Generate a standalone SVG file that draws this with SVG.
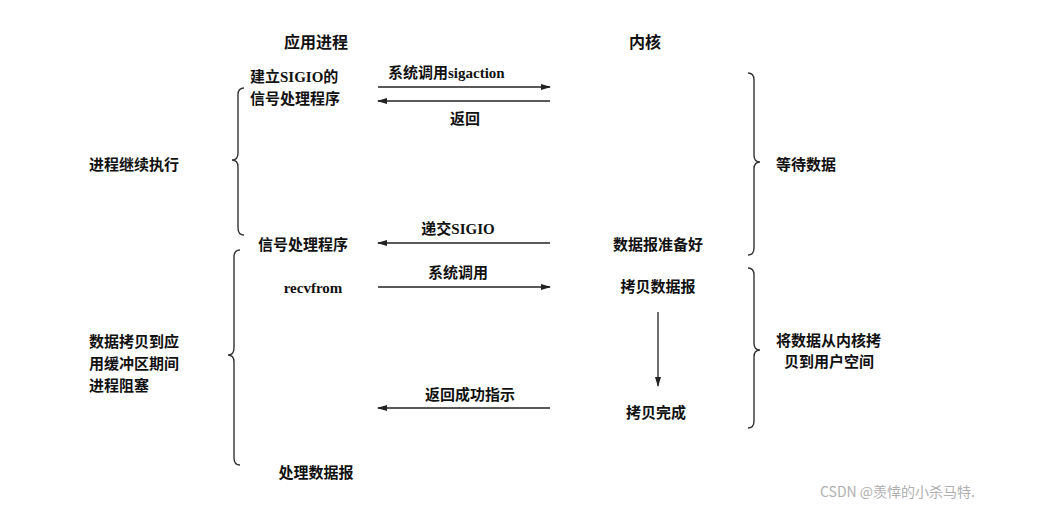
<svg xmlns="http://www.w3.org/2000/svg" width="1041" height="507" viewBox="0 0 1041 507">
<style>
text{font-family:"Liberation Serif","Noto Sans CJK SC",serif;font-size:15px;font-weight:bold;fill:#111}
.h{font-size:16px}
.wm{font-family:"Noto Sans CJK SC","Liberation Sans",sans-serif;font-size:14px;font-weight:normal;fill:#b0b0b0}
.ln{stroke:#222;stroke-width:1.3;fill:none}
.br{stroke:#333;stroke-width:1.4;fill:none}
</style>
<defs><marker id="a" markerWidth="10" markerHeight="8" refX="9" refY="4" orient="auto" markerUnits="userSpaceOnUse"><path d="M0,1 L10,4 L0,7 Z" fill="#222"/></marker></defs>
<rect width="1041" height="507" fill="#fff"/>
<g id="headers"><text class="h" x="316" y="48" text-anchor="middle">应用进程</text><text class="h" x="645" y="48" text-anchor="middle">内核</text></g>
<g id="braces">
<path class="br" d="M244,88 Q238,88 238,95 L238,153 Q238,160 232,160 Q238,160 238,167 L238,228 Q238,235 244,235"/>
<path class="br" d="M240,250 Q234,250 234,257 L234,348 Q234,355 228,355 Q234,355 234,362 L234,458 Q234,465 240,465"/>
<path class="br" d="M748,73 Q754,73 754,80 L754,155 Q754,162 760,162 Q754,162 754,169 L754,248 Q754,255 748,255"/>
<path class="br" d="M748,268 Q754,268 754,275 L754,343 Q754,350 760,350 Q754,350 754,357 L754,421 Q754,428 748,428"/>
</g>
<g id="connectors">
<line class="ln" x1="378" y1="87" x2="550" y2="87" marker-end="url(#a)"/>
<line class="ln" x1="550" y1="101" x2="378" y2="101" marker-end="url(#a)"/>
<line class="ln" x1="550" y1="243" x2="378" y2="243" marker-end="url(#a)"/>
<line class="ln" x1="378" y1="287" x2="550" y2="287" marker-end="url(#a)"/>
<line class="ln" x1="658" y1="312" x2="658" y2="386" marker-end="url(#a)"/>
<line class="ln" x1="550" y1="408" x2="378" y2="408" marker-end="url(#a)"/>
</g>
<g id="labels">
<text x="388" y="78">系统调用sigaction</text>
<text x="465" y="124" text-anchor="middle">返回</text>
<text x="458" y="234" text-anchor="middle">递交SIGIO</text>
<text x="458" y="278" text-anchor="middle">系统调用</text>
<text x="470" y="400" text-anchor="middle">返回成功指示</text>
</g>
<g id="n1"><text x="250" y="82">建立SIGIO的</text><text x="250" y="104">信号处理程序</text></g>
<g id="n2"><text x="258" y="250">信号处理程序</text></g>
<g id="n3"><text x="313" y="293" text-anchor="middle">recvfrom</text></g>
<g id="n4"><text x="316" y="478" text-anchor="middle">处理数据报</text></g>
<g id="n5"><text x="658" y="250" text-anchor="middle">数据报准备好</text></g>
<g id="n6"><text x="658" y="292" text-anchor="middle">拷贝数据报</text></g>
<g id="n7"><text x="656" y="418" text-anchor="middle">拷贝完成</text></g>
<g id="l1"><text x="89" y="170">进程继续执行</text></g>
<g id="l2"><text x="89" y="347">数据拷贝到应</text><text x="89" y="369">用缓冲区期间</text><text x="89" y="391">进程阻塞</text></g>
<g id="r1"><text x="776" y="170">等待数据</text></g>
<g id="r2"><text x="776" y="346">将数据从内核拷</text><text x="784" y="367">贝到用户空间</text></g>
<text class="wm" x="820" y="497">CSDN @羡悻的小杀马特.</text>
</svg>
